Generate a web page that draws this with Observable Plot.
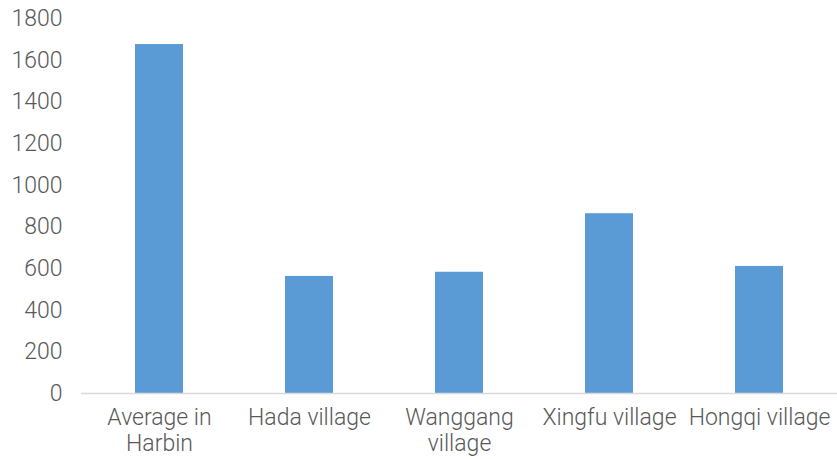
<!DOCTYPE html>
<html>
<head>
<meta charset="utf-8">
<script src="https://cdn.jsdelivr.net/npm/d3@7"></script>
<script src="https://cdn.jsdelivr.net/npm/@observablehq/plot@0.6"></script>
<style>
  html, body { margin: 0; padding: 0; background: #fff; }
  #chart svg { display: block; }
  #chart svg text { font-weight: 300; }
</style>
</head>
<body>
<div id="chart"></div>
<script>
const categories = ["Average in Harbin", "Hada village", "Wanggang village", "Xingfu village", "Hongqi village"];
const tickLabels = ["Average in\nHarbin", "Hada village", "Wanggang\nvillage", "Xingfu village", "Hongqi village"];
const values = [1675, 562, 582, 863, 610];
const yTicks = [0, 200, 400, 600, 800, 1000, 1200, 1400, 1600, 1800];

const data = categories.map((c, i) => ({category: c, value: values[i]}));
const labelOf = new Map(categories.map((c, i) => [c, tickLabels[i]]));

const chart = Plot.plot({
  width: 837,
  height: 459,
  marginLeft: 81,
  marginRight: 0,
  marginTop: 18,
  marginBottom: 66,
  style: {fontFamily: "Roboto, 'Liberation Sans', sans-serif", fontSize: "23px", color: "#595959", background: "#fff"},
  x: {domain: categories, paddingInner: 0.683, paddingOuter: 0.35, align: 0.5},
  y: {domain: [0, 1800]},
  marks: [
    Plot.barY(data, {x: "category", y: "value", fill: "#5B9BD5"}),
    Plot.ruleY([0], {stroke: "#D9D9D9", strokeWidth: 1.3}),
    Plot.axisY({ticks: yTicks, tickSize: 0, tickPadding: 19, label: null, tickFormat: d3.format("d"), fontSize: 23, fill: "#595959"}),
    Plot.axisX({tickSize: 0, tickPadding: 14, label: null, tickFormat: d => labelOf.get(d), fontSize: 23, fill: "#595959", lineHeight: 1.1})
  ]
});
document.getElementById("chart").appendChild(chart);
</script>
</body>
</html>
